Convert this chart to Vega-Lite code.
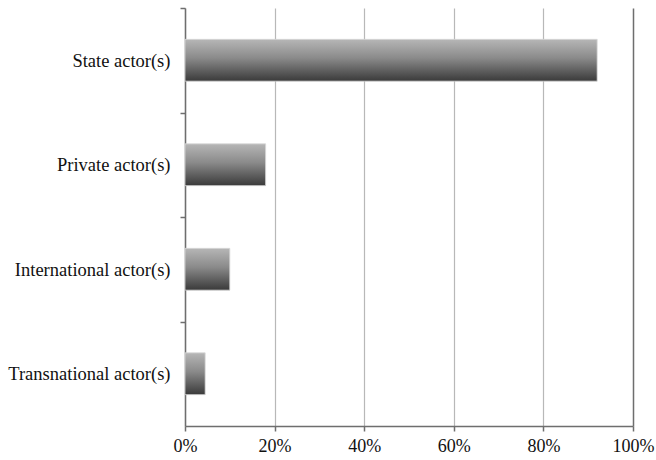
{
  "$schema": "https://vega.github.io/schema/vega-lite/v6.json",
  "width": 448,
  "height": 418,
  "autosize": "none",
  "padding": {"left": 185, "top": 8, "right": 23, "bottom": 34},
  "background": "white",
  "data": {
    "values": [
      {"actor": "State actor(s)", "share": 0.92},
      {"actor": "Private actor(s)", "share": 0.18},
      {"actor": "International actor(s)", "share": 0.10},
      {"actor": "Transnational actor(s)", "share": 0.045}
    ]
  },
  "config": {
    "view": {"stroke": null},
    "axis": {
      "labelFont": "Liberation Serif",
      "labelFontSize": 18,
      "labelColor": "#111111",
      "domainColor": "#6e6e6e",
      "domainWidth": 1.5,
      "tickColor": "#6e6e6e",
      "tickWidth": 1.5,
      "tickSize": 5
    }
  },
  "mark": {
    "type": "bar",
    "color": {
      "gradient": "linear",
      "x1": 0, "y1": 0, "x2": 0, "y2": 1,
      "stops": [
        {"offset": 0, "color": "#b6b6b6"},
        {"offset": 0.45, "color": "#8a8a8a"},
        {"offset": 1, "color": "#3a3a3a"}
      ]
    },
    "stroke": "#d8d8d8",
    "strokeWidth": 0.8
  },
  "encoding": {
    "y": {
      "field": "actor",
      "type": "nominal",
      "sort": null,
      "title": null,
      "scale": {"paddingInner": 0.6, "paddingOuter": 0.3},
      "axis": {
        "tickOffset": -52.25,
        "labelOffset": 52.25,
        "tickExtra": true,
        "labelPadding": 10,
        "labelFontSize": 18.5,
        "grid": false
      }
    },
    "x": {
      "field": "share",
      "type": "quantitative",
      "title": null,
      "scale": {"domain": [0, 1], "nice": false},
      "axis": {
        "format": "%",
        "values": [0, 0.2, 0.4, 0.6, 0.8, 1],
        "grid": true,
        "gridColor": {"condition": {"test": "datum.value === 1", "value": "#6e6e6e"}, "value": "#b8b8b8"},
        "gridWidth": {"condition": {"test": "datum.value === 1", "value": 1.5}, "value": 1.2},
        "labelPadding": 6,
        "labelFlush": false
      }
    }
  }
}
